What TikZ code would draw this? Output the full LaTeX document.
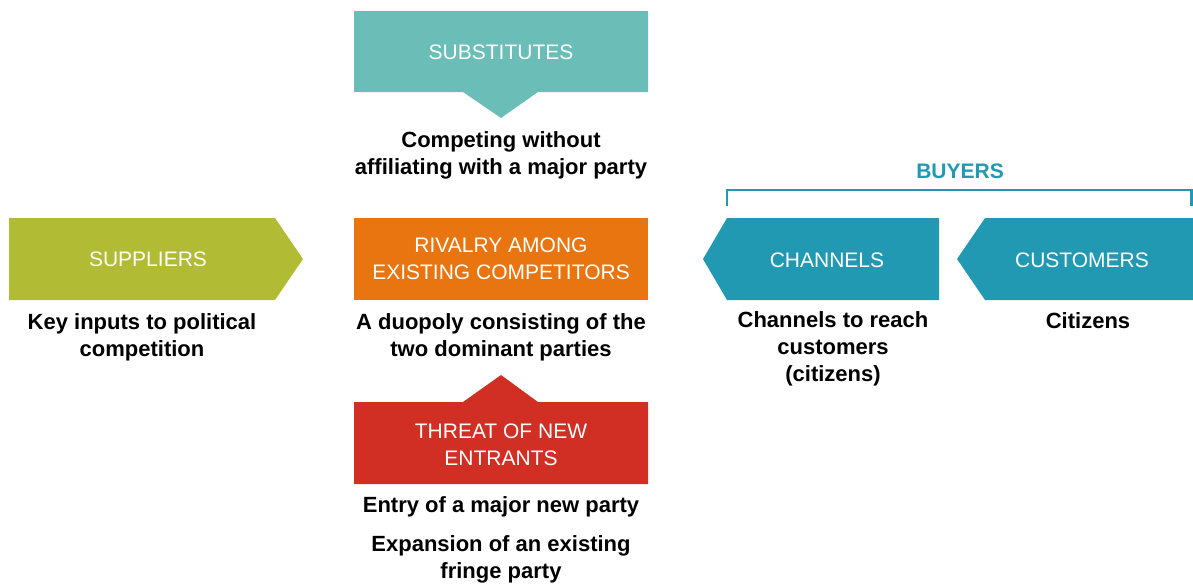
\documentclass[tikz,border=0pt]{standalone}
\usepackage{fontspec}
\setmainfont{Liberation Sans}
\definecolor{subc}{HTML}{6BBDB8}
\definecolor{supc}{HTML}{B2BB34}
\definecolor{rivc}{HTML}{E8750F}
\definecolor{thrc}{HTML}{D12E24}
\definecolor{buyc}{HTML}{2299B2}
\tikzset{
  lab/.style={text=white, font=\fontsize{21}{26.5}\selectfont, align=center, anchor=base, inner sep=0pt},
  desc/.style={text=black, font=\bfseries\fontsize{22}{27}\selectfont, align=center, anchor=base, inner sep=0pt},
}
\begin{document}
\begin{tikzpicture}[x=1pt,y=-1pt]
\useasboundingbox (0,0) rectangle (1193,584);
% shapes
\fill[subc] (354,11) -- (648,11) -- (648,92) -- (538,92) -- (501,118) -- (463,92) -- (354,92) -- cycle;
\fill[supc] (9,218) -- (275,218) -- (303,259) -- (275,300) -- (9,300) -- cycle;
\fill[rivc] (354,218) rectangle (648,300);
\fill[thrc] (354,402) -- (463,402) -- (501,375) -- (538,402) -- (648,402) -- (648,484) -- (354,484) -- cycle;
\fill[buyc] (703,259) -- (727,218) -- (939,218) -- (939,300) -- (727,300) -- cycle;
\fill[buyc] (957,259) -- (985,218) -- (1193,218) -- (1193,300) -- (985,300) -- cycle;
% bracket
\coordinate (bl) at (727,206);
\coordinate (br) at (1191.5,206);
\draw[buyc, line width=2.5pt] (bl) -- ++(0,-16) -| (br);
% labels (multi-line nodes: base = last line's baseline)
\node[lab] (sub) at (501,59) {SUBSTITUTES};
\node[lab] (sup) at (148,266) {SUPPLIERS};
\node[lab] (riv) at (501,279) {RIVALRY AMONG\\EXISTING COMPETITORS};
\node[lab] (thr) at (501,465) {THREAT OF NEW\\ENTRANTS};
\node[lab] (cha) at (827,267) {CHANNELS};
\node[lab] (cus) at (1082,267) {CUSTOMERS};
\node[lab, text=buyc, font=\bfseries\fontsize{21}{26}\selectfont] (buy) at (960,178) {BUYERS};
% descriptions
\node[desc] (dsub) at (501,174) {Competing without\\affiliating with a major party};
\node[desc] (dsup) at (142,356) {Key inputs to political\\competition};
\node[desc] (driv) at (501,356) {A duopoly consisting of the\\two dominant parties};
\node[desc] (dthr1) at (501,512) {Entry of a major new party};
\node[desc] (dthr2) at (501,578) {Expansion of an existing\\fringe party};
\node[desc] (dcha) at (833,381) {Channels to reach\\customers\\(citizens)};
\node[desc] (dcus) at (1088,328) {Citizens};
\end{tikzpicture}
\end{document}
